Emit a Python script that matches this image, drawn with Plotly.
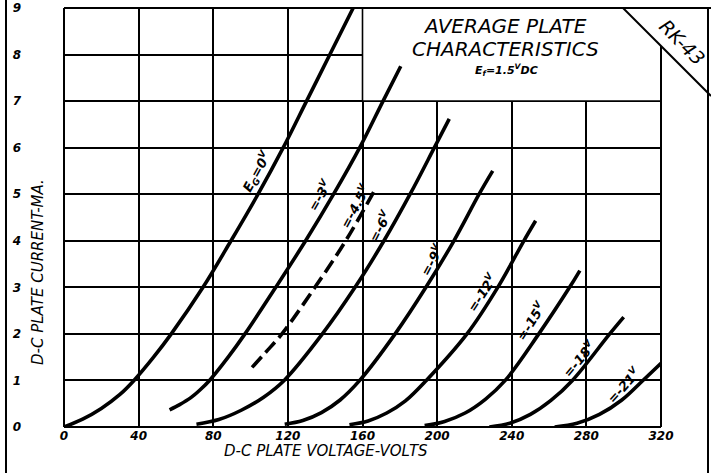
import plotly.graph_objects as go

# plate voltage (V) / plate current (mA), one pair per grid bias
eg0_v = [0, 10, 20, 30, 37.5, 48, 57.5, 74.5, 89.5, 104, 117.5, 130, 142.5, 155]
eg0_i = [0, 0.17, 0.4, 0.7, 1.0, 1.5, 2.0, 3.0, 4.0, 5.0, 6.0, 7.0, 8.0, 9.0]
g3_v = [56.6, 62, 68, 73, 78, 88, 97, 113.5, 129.5, 144.5, 158.5, 171, 180.5]
g3_i = [0.37, 0.48, 0.63, 0.8, 1.0, 1.5, 2.0, 3.0, 4.0, 5.0, 6.0, 7.0, 7.75]
g45_v = [100.8, 108, 116.8, 134.5, 151, 166]
g45_i = [1.28, 1.6, 2.0, 3.0, 4.0, 5.05]
g6_v = [71, 83, 95, 107, 118, 138.5, 156, 171.5, 185.5, 198.5, 206.5]
g6_i = [0.06, 0.16, 0.36, 0.64, 1.0, 2.0, 3.0, 4.0, 5.0, 6.0, 6.62]
g9_v = [118.3, 128, 138, 148, 158.5, 177.5, 194, 209, 222.5, 229.8]
g9_i = [0.06, 0.14, 0.31, 0.58, 1.0, 2.0, 3.0, 4.0, 5.0, 5.5]
g12_v = [153, 163, 173, 183, 194.2, 216, 232.5, 246.5, 252.8]
g12_i = [0.05, 0.13, 0.3, 0.56, 1.0, 2.0, 3.0, 4.0, 4.43]
g15_v = [193.3, 204, 215, 226, 236.5, 254.5, 271, 276.5]
g15_i = [0.03, 0.12, 0.3, 0.6, 1.0, 2.0, 3.0, 3.36]
g18_v = [228, 239, 250, 261, 272.5, 292.5, 300]
g18_i = [0.0, 0.08, 0.27, 0.57, 1.0, 2.0, 2.36]
g21_v = [263, 275, 287, 299, 310.3, 320]
g21_i = [0.0, 0.08, 0.27, 0.58, 1.0, 1.37]

curves = [(eg0_v, eg0_i, "solid"), (g3_v, g3_i, "solid"), (g45_v, g45_i, "14px,6px"),
          (g6_v, g6_i, "solid"), (g9_v, g9_i, "solid"), (g12_v, g12_i, "solid"),
          (g15_v, g15_i, "solid"), (g18_v, g18_i, "solid"), (g21_v, g21_i, "solid")]

# curve labels: text, V, mA, angle
curve_labels = [
    ("E<sub>G</sub>=0<sup>V</sup>", 103.3, 5.48, -61),
    ("=-3<sup>V</sup>", 137, 4.98, -60),
    ("=-4.5<sup>V</sup>", 155.8, 4.75, -62),
    ("=-6<sup>V</sup>", 169.2, 4.32, -63),
    ("=-9<sup>V</sup>", 196.9, 3.59, -62),
    ("=-12<sup>V</sup>", 224.2, 2.89, -57),
    ("=-15<sup>V</sup>", 250.2, 2.27, -58),
    ("=-18<sup>V</sup>", 275.8, 1.46, -50),
    ("=-21<sup>V</sup>", 299.8, 0.91, -48),
]

x_ticks = [0, 40, 80, 120, 160, 200, 240, 280, 320]
y_ticks = [0, 1, 2, 3, 4, 5, 6, 7, 8, 9]

W, H = 711, 473
L, R, T, B = 64, 661, 8, 427

def px(x):
    return (x - L) / (R - L)

def py(y):
    return (B - y) / (B - T)

FONT = "DejaVu Sans"
ink = "black"

fig = go.Figure()
for v, i, dash in curves:
    fig.add_trace(go.Scatter(x=v, y=i, mode="lines",
                             line=dict(color=ink, width=3.6, dash=dash, shape="spline", smoothing=1.0),
                             hoverinfo="skip"))

for txt, v, i, ang in curve_labels:
    fig.add_annotation(x=v, y=i, text=txt, textangle=ang, showarrow=False, xanchor="center", yanchor="middle",
                       font=dict(family=FONT, size=13, color=ink, weight="bold", style="italic"))

shapes = []
# title box blanks out the grid in the upper right
shapes.append(dict(type="rect", xref="x", yref="y", x0=160, x1=330, y0=7, y1=9.5,
                   fillcolor="white", line=dict(width=0), layer="between"))
shapes.append(dict(type="line", xref="x", yref="y", x0=160, x1=160, y0=7, y1=9, line=dict(color=ink, width=1.6)))
shapes.append(dict(type="line", xref="x", yref="y", x0=160, x1=320, y0=7, y1=7, line=dict(color=ink, width=1.6)))
# plot border and sheet frame (pixel positions)
seg = [((L, B), (R, B)), ((L, T), (L, B)), ((L, T), (711, T)), ((R, 46), (R, B)),
       ((623, T), (711, 96)), ((6, 0), (6, 473)), ((708, T), (708, 473))]
for (x0, y0), (x1, y1) in seg:
    shapes.append(dict(type="line", xref="paper", yref="paper", x0=px(x0), y0=py(y0), x1=px(x1), y1=py(y1),
                       line=dict(color=ink, width=2)))

def note(x, y, text, size, angle=0, bold=False):
    fig.add_annotation(xref="paper", yref="paper", x=px(x), y=py(y), text=text, textangle=angle,
                       showarrow=False, xanchor="center", yanchor="middle",
                       font=dict(family=FONT, size=size, color=ink, style="italic",
                                 weight="bold" if bold else "normal"))

note(505, 26, "AVERAGE PLATE", 20)
note(505, 49, "CHARACTERISTICS", 20)
note(506, 70, "E<sub>f</sub>=1.5<sup>V</sup>DC", 11, bold=True)
note(682, 42, "RK-43", 19, angle=45)
note(326, 451, "D-C PLATE VOLTAGE-VOLTS", 15)
note(38, 272, "D-C PLATE CURRENT-MA.", 15, angle=-90)

tickfont = dict(family=FONT, size=12, color=ink, weight="bold", style="italic")
fig.update_layout(
    width=W, height=H,
    margin=dict(l=L, r=W - R, t=T, b=H - B),
    paper_bgcolor="white", plot_bgcolor="white",
    showlegend=False,
    shapes=shapes,
    xaxis=dict(range=[0, 320], tickvals=x_ticks, ticktext=[str(t) for t in x_ticks], showgrid=True,
               gridcolor=ink, gridwidth=1.6, zeroline=False, showline=False, ticks="", tickfont=tickfont,
               automargin=False, fixedrange=True),
    yaxis=dict(range=[0, 9], tickvals=y_ticks, ticktext=[str(t) for t in y_ticks], showgrid=True,
               gridcolor=ink, gridwidth=1.6, zeroline=False, showline=False, ticks="", tickfont=tickfont,
               ticklabelstandoff=42, automargin=False, fixedrange=True),
)

# drop the page's default body margin so the figure sits at the window corner
fig.write_html("out.html", config={"displayModeBar": False},
               post_script="document.body.style.margin='0';")
